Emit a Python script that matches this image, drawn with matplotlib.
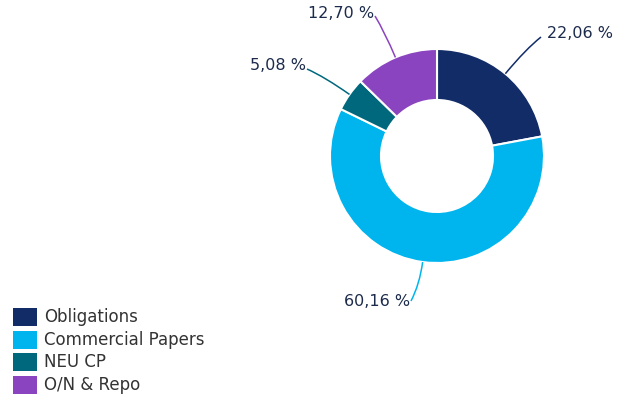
import numpy as np
import matplotlib
matplotlib.use('Agg')
import matplotlib.pyplot as plt
from matplotlib.patches import Rectangle, PathPatch
from matplotlib.path import Path

# data
categories = ['Obligations', 'Commercial Papers', 'NEU CP', 'O/N & Repo']
shares = [22.06, 60.16, 5.08, 12.70]
labels = ['22,06 %', '60,16 %', '5,08 %', '12,70 %']
colors = ['#122c68', '#00b5ee', '#00687d', '#8a44c0']
text_color = '#1c2b4c'

# label end points of the leader lines (data units) and text alignment
label_ends = [(1.04, 1.19), (-0.26, -1.45), (-1.30, 0.87), (-0.62, 1.40)]
label_dy = [0.04, -0.01, 0.03, 0.03]
label_ha = ['left', 'right', 'right', 'right']

W, H = 627, 401
fig = plt.figure(figsize=(W / 100, H / 100), dpi=100)
plt.rcParams['font.family'] = ['DejaVu Sans']

# donut axes: centre at pixel (437, 156), 100 px per unit
cx, cy = 437, 156
ax = fig.add_axes([(cx - 150) / W, 1 - (cy + 150) / H, 300 / W, 300 / H])

R = 1.07
wedges, _ = ax.pie(shares, colors=colors, startangle=90, counterclock=False,
                   radius=R, wedgeprops=dict(width=0.51, edgecolor='white', linewidth=1.5))
ax.set_xlim(-1.5, 1.5)
ax.set_ylim(-1.5, 1.5)
ax.set_aspect('equal')
ax.axis('off')

for w, lab, end, dy, ha, col in zip(wedges, labels, label_ends, label_dy, label_ha, colors):
    mid = np.deg2rad((w.theta1 + w.theta2) / 2)
    u = np.array([np.cos(mid), np.sin(mid)])
    p0 = u * R
    end = np.array(end)
    ctrl = u * (np.linalg.norm(end) * 0.88)
    path = Path([p0, ctrl, end], [Path.MOVETO, Path.CURVE3, Path.CURVE3])
    ax.add_patch(PathPatch(path, facecolor='none', edgecolor=col, lw=1.1, clip_on=False))
    dx = 0.06 if ha == 'left' else -0.01
    ax.text(end[0] + dx, end[1] + dy, lab, ha=ha, va='center', fontsize=11.5,
            color=text_color, clip_on=False)

# legend drawn in pixel space
lax = fig.add_axes([0, 0, 1, 1])
lax.set_xlim(0, W)
lax.set_ylim(H, 0)
lax.axis('off')
y0, step = 317, 22.7
for i, (cat, col) in enumerate(zip(categories, colors)):
    y = y0 + i * step
    lax.add_patch(Rectangle((13, y - 9), 24, 18, facecolor=col, edgecolor='none'))
    lax.text(44, y, cat, ha='left', va='center', fontsize=12, color='#333333')

fig.savefig('out.png', dpi=100)
